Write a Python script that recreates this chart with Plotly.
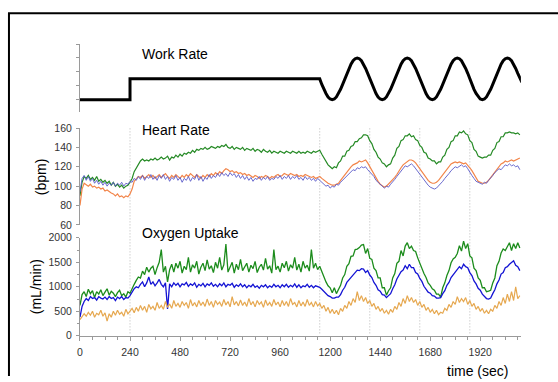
import plotly.graph_objects as go

# ---------------- data ----------------
STEP = 10  # seconds between samples

work_times = [0, 240, 240, 1150]
work_level = [20, 20, 50, 50]
work_wave = [
    50, 42, 35, 29, 24, 21, 20, 21, 24, 29, 35, 42, 50, 58, 65, 71, 76, 79, 80, 79, 76, 71, 65, 58,
    50, 42, 35, 29, 24, 21, 20, 21, 24, 29, 35, 42, 50, 58, 65, 71, 76, 79, 80, 79, 76, 71, 65, 58,
    50, 42, 35, 29, 24, 21, 20, 21, 24, 29, 35, 42, 50, 58, 65, 71, 76, 79, 80, 79, 76, 71, 65, 58,
    50, 42, 35, 29, 24, 21, 20, 21, 24, 29, 35, 42, 50, 58, 65, 71, 76, 79, 80, 79, 76, 71, 65, 58,
    50, 45,
]

hr_green = [
    90,104,110,108,111,107,109,106,110,105,107,104,106,103,105,101,104,100,102,99,101,98,100,101,
    104,108,115,119,123,126,128,126,127,126,128,127,129,127,128,130,128,129,131,127,130,129,132,130,
    133,131,134,133,135,134,137,135,138,137,139,138,140,138,139,141,140,139,141,140,142,141,143,140,
    139,141,138,140,139,138,140,137,139,138,137,139,136,138,137,135,138,136,135,137,134,136,135,134,
    136,135,134,136,135,134,136,135,134,136,134,135,134,136,135,134,136,135,136,137,133,129,125,122,
    120,118,120,119,124,126,131,131,136,137,141,142,146,146,149,150,153,153,152,147,144,138,135,130,
    128,124,123,120,122,123,129,132,139,141,147,148,152,152,154,151,152,148,147,142,140,135,134,129,
    128,126,126,123,125,125,130,132,138,140,146,147,152,152,156,155,157,154,153,147,145,138,136,131,
    130,129,130,130,132,132,137,139,145,146,151,151,155,155,156,155,155,154,155,153,
]
hr_orange = [
    80,97,103,101,100,102,99,100,98,99,97,98,95,96,94,93,92,90,92,89,90,88,90,89,
    92,97,105,108,110,109,111,108,110,112,109,111,108,110,112,109,111,113,110,108,111,109,112,110,
    108,111,109,112,110,113,111,109,112,110,108,111,109,112,110,113,111,114,112,115,113,116,118,117,
    115,116,114,115,113,114,112,113,111,112,110,109,111,110,108,110,109,111,110,108,110,109,111,112,
    110,111,113,112,111,113,112,111,112,110,111,110,112,111,110,109,110,108,109,110,108,106,104,103,
    102,101,101,102,103,106,109,112,115,118,120,122,123,124,126,125,126,127,124,120,116,112,108,105,
    102,100,99,100,102,104,106,109,112,116,119,122,124,126,127,127,126,124,121,118,114,111,108,106,
    104,103,103,104,106,109,112,115,118,121,123,124,125,124,125,124,123,124,122,119,116,112,108,105,
    104,103,103,104,106,109,112,115,118,121,123,124,126,125,126,127,126,127,128,129,
]
hr_blue = [
    94,108,111,106,110,105,108,103,106,102,105,101,104,100,103,101,104,100,103,101,104,100,103,102,
    105,104,108,106,110,107,111,106,110,108,112,107,110,106,111,108,112,107,110,105,109,107,111,106,
    109,104,108,106,110,105,109,107,112,106,110,105,109,107,112,108,111,109,113,110,114,111,113,110,
    114,111,113,109,112,108,111,107,110,106,109,105,108,107,110,106,109,107,110,106,108,107,110,108,
    111,107,110,108,111,107,110,108,111,107,109,106,110,107,109,106,108,105,108,106,104,102,100,101,
    98,100,99,102,101,104,106,108,111,113,115,117,116,119,118,120,119,120,117,115,112,110,106,104,
    101,99,98,100,99,102,104,107,110,113,116,118,121,120,122,123,121,118,116,113,109,106,103,101,
    99,98,97,98,100,102,105,108,110,113,116,118,120,119,121,122,120,121,118,114,111,108,105,104,
    103,102,104,103,106,108,111,114,116,118,117,120,122,121,123,121,122,120,121,117,
]

vo2_green = [
    620,840,900,800,950,860,920,780,900,850,940,820,890,960,830,910,870,800,880,930,820,860,790,900,
    870,980,1050,1130,1200,1180,1320,1250,1400,1300,1380,1420,1250,1390,1500,1760,1300,1420,1100,1350,1460,1300,1480,1380,
    1520,1280,1420,1350,1600,1300,1450,1380,1520,1260,1400,1480,1330,1550,1360,1430,1290,1500,1380,1600,1340,1450,1870,1300,
    1420,1500,1280,1460,1350,1560,1330,1420,1480,1300,1440,1370,1520,1290,1400,1460,1340,1580,1360,1430,1280,1760,1350,1420,
    1300,1480,1390,1520,1320,1450,1380,1600,1340,1460,1300,1520,1380,1440,1320,1760,1380,1480,1350,1420,1300,1180,1100,1020,
    980,880,980,860,940,1030,1180,1250,1420,1470,1620,1630,1760,1770,1800,1850,1860,1680,1780,1580,1560,1380,1330,1180,
    1180,980,980,830,920,980,1180,1270,1480,1520,1740,1630,1830,1900,1780,1830,1740,1720,1590,1470,1390,1270,1190,1080,
    1030,960,930,850,850,790,980,1080,1230,1330,1490,1570,1600,1680,1840,1730,1930,1780,1880,1630,1590,1380,1330,1180,
    1130,980,980,900,910,930,1080,1180,1430,1520,1690,1770,1740,1830,1900,1740,1880,1780,1900,1790,
]
vo2_blue = [
    380,600,700,760,720,800,760,780,730,800,770,750,790,740,800,760,780,720,790,760,800,740,780,770,
    820,900,960,1000,980,1050,1100,1000,1080,1200,1050,1100,1020,1080,1150,1050,1000,1080,550,1060,1000,1080,1030,1070,
    1000,1060,1040,1090,1010,1060,1030,1080,990,1050,1020,1070,1000,1060,1030,1080,1010,1050,1000,1060,1020,1080,1000,1050,
    1030,1070,990,1040,1010,1060,1000,1040,980,1030,1000,1050,990,1020,970,1030,1000,1040,980,1020,990,1050,1000,1030,
    980,1040,1000,1050,990,1030,1000,1060,990,1040,980,1020,1000,1050,990,1030,980,1020,1000,990,950,900,860,820,
    800,770,770,790,790,840,930,990,1090,1140,1210,1240,1310,1340,1330,1370,1360,1290,1330,1240,1190,1090,1030,940,
    910,840,830,780,820,860,960,1040,1160,1240,1310,1340,1430,1370,1460,1390,1390,1290,1260,1170,1110,1010,960,890,
    870,820,810,770,770,780,860,920,1030,1090,1190,1240,1310,1340,1410,1370,1460,1410,1390,1290,1230,1120,1060,970,
    930,850,810,760,750,770,860,940,1060,1140,1260,1290,1390,1410,1460,1490,1530,1440,1410,1330,
]
vo2_orange = [
    330,380,450,400,480,420,500,380,460,430,520,400,470,300,450,380,500,420,520,440,480,400,540,450,
    500,560,470,580,500,620,520,600,480,640,550,600,520,680,560,620,540,700,580,650,560,720,600,660,
    580,700,620,680,560,740,610,680,590,720,620,690,600,750,620,700,580,720,640,690,600,740,630,700,
    590,800,630,700,610,730,620,690,600,760,630,700,590,720,640,690,580,730,620,680,600,740,630,690,
    590,720,620,700,600,760,640,680,590,720,610,690,600,740,620,680,590,700,610,660,560,620,500,580,
    460,540,450,520,430,560,500,620,560,700,620,760,680,900,720,820,700,780,660,720,600,660,540,600,
    500,560,460,520,440,540,480,600,540,680,600,760,660,820,700,780,680,740,620,700,580,640,520,580,
    480,540,450,520,430,480,460,560,520,640,580,700,640,800,680,760,700,780,640,720,600,660,540,600,
    500,560,460,520,450,540,500,620,560,700,620,780,660,850,700,900,720,1000,760,820,
]

event_times = [240, 1150, 1390, 1630, 1870]
x_ticks = [0, 240, 480, 720, 960, 1200, 1440, 1680, 1920]
hr_ticks = [60, 80, 100, 120, 140, 160]
vo2_ticks = [0, 500, 1000, 1500, 2000]
work_ticks = [20, 40, 60, 80, 100]


def times(vals, start=0):
    return [start + i * STEP for i in range(len(vals))]


W, H = 558, 382
FONT = "Liberation Sans, Arial, sans-serif"

fig = go.Figure()

# work rate
wx = work_times + times(work_wave, 1150)
wy = work_level + work_wave
fig.add_trace(go.Scatter(x=wx, y=wy, mode="lines", line=dict(color="black", width=3),
                         xaxis="x", yaxis="y", showlegend=False, hoverinfo="skip"))

# heart rate
fig.add_trace(go.Scatter(x=times(hr_green), y=hr_green, mode="lines",
                         line=dict(color="#258a25", width=1.2), xaxis="x2", yaxis="y2", showlegend=False))
fig.add_trace(go.Scatter(x=times(hr_orange), y=hr_orange, mode="lines",
                         line=dict(color="#f2854a", width=1.2), xaxis="x2", yaxis="y2", showlegend=False))
fig.add_trace(go.Scatter(x=times(hr_blue), y=hr_blue, mode="lines",
                         line=dict(color="#5a5ac8", width=0.9), xaxis="x2", yaxis="y2", showlegend=False))

# oxygen uptake
fig.add_trace(go.Scatter(x=times(vo2_green), y=vo2_green, mode="lines",
                         line=dict(color="#1c8c1c", width=1.3), xaxis="x3", yaxis="y3", showlegend=False))
fig.add_trace(go.Scatter(x=times(vo2_blue), y=vo2_blue, mode="lines",
                         line=dict(color="#1414d4", width=1.3), xaxis="x3", yaxis="y3", showlegend=False))
fig.add_trace(go.Scatter(x=times(vo2_orange), y=vo2_orange, mode="lines",
                         line=dict(color="#e6a850", width=1.2), xaxis="x3", yaxis="y3", showlegend=False))

def px_x(p):
    return p / W

def px_y(p):
    return 1 - p / H

x_dom = [px_x(77.4), px_x(520.7)]
x_range = [0, 2115]
axis_col = "#9a9a9a"
tick_font = dict(family=FONT, size=10.5, color="#333333")

hidden_x = dict(domain=x_dom, range=x_range, visible=False, showgrid=False, zeroline=False)

shapes = []
for t in event_times:
    shapes.append(dict(type="line", xref="x3", yref="paper", x0=t, x1=t,
                       y0=px_y(338), y1=px_y(125),
                       line=dict(color="#b8b8b8", width=1, dash="1px,2px"), layer="below"))
# picture frame (left and top)
shapes.append(dict(type="line", xref="paper", yref="paper", x0=px_x(6), x1=px_x(6),
                   y0=0, y1=px_y(7.5), line=dict(color="black", width=2)))
shapes.append(dict(type="line", xref="paper", yref="paper", x0=px_x(5), x1=1,
                   y0=px_y(7.5), y1=px_y(7.5), line=dict(color="black", width=2)))

title_font = dict(family=FONT, size=14, color="black")
annotations = [
    dict(text="Work Rate", x=px_x(138), y=px_y(49.5), xanchor="left", yanchor="middle"),
    dict(text="Heart Rate", x=px_x(138), y=px_y(128.5), xanchor="left", yanchor="middle"),
    dict(text="Oxygen Uptake", x=px_x(138), y=px_y(234), xanchor="left", yanchor="middle"),
    dict(text="(bpm)", x=px_x(38.5), y=px_y(176.5), xanchor="center", yanchor="middle", textangle=-90),
    dict(text="(mL/min)", x=px_x(33.5), y=px_y(290), xanchor="center", yanchor="middle", textangle=-90),
    dict(text="time (sec)", x=px_x(477.5), y=px_y(376.5), xanchor="center", yanchor="middle"),
]
for a in annotations:
    a.update(xref="paper", yref="paper", showarrow=False, font=title_font)

fig.update_layout(
    width=W, height=H,
    margin=dict(l=0, r=0, t=0, b=0),
    paper_bgcolor="white", plot_bgcolor="rgba(0,0,0,0)",
    font=dict(family=FONT),
    showlegend=False,
    hovermode=False,
    xaxis=dict(hidden_x, anchor="y"),
    xaxis2=dict(hidden_x, anchor="y2"),
    xaxis3=dict(domain=x_dom, range=x_range, anchor="y3", tickvals=x_ticks,
                ticks="outside", ticklen=4, tickcolor=axis_col, tickwidth=1,
                minor=dict(dtick=60, tick0=0, ticks="outside", ticklen=3, tickcolor=axis_col),
                showline=True, linecolor=axis_col, linewidth=1,
                showgrid=False, zeroline=False, tickfont=tick_font, ticklabelstandoff=3),
    yaxis=dict(domain=[px_y(109), px_y(39.3)], range=[3, 100], anchor="x",
               tickvals=work_ticks, showticklabels=False, ticks="outside", ticklen=3,
               tickcolor=axis_col, showline=True, linecolor=axis_col, linewidth=1,
               showgrid=False, zeroline=False),
    yaxis2=dict(domain=[px_y(226), px_y(126)], range=[60, 160], anchor="x2",
                tickvals=hr_ticks, ticks="outside", ticklen=3, tickcolor=axis_col,
                showline=True, linecolor=axis_col, linewidth=1,
                showgrid=False, zeroline=False, tickfont=tick_font, ticklabelstandoff=2),
    yaxis3=dict(domain=[px_y(340.5), px_y(239.3)], range=[0, 2000], anchor="x3",
                tickvals=vo2_ticks, ticks="outside", ticklen=3, tickcolor=axis_col,
                minor=dict(dtick=250, ticks="outside", ticklen=2, tickcolor=axis_col),
                showline=True, linecolor=axis_col, linewidth=1,
                showgrid=False, zeroline=False, tickfont=tick_font, ticklabelstandoff=2),
    shapes=shapes,
    annotations=annotations,
)

fig.write_html(
    "out.html",
    config={"displayModeBar": False},
    post_script="document.body.style.margin='0';document.body.style.padding='0';"
                "document.body.style.overflow='hidden';",
)
